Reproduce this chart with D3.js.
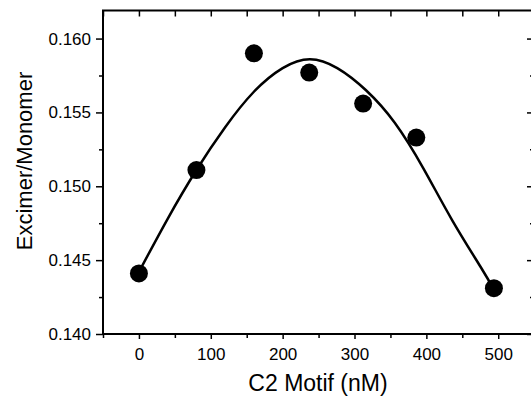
<!DOCTYPE html>
<html>
<head>
<meta charset="utf-8">
<script src="https://cdn.jsdelivr.net/npm/d3@7"></script>
<style>
  body { margin: 0; background: #fff; }
  svg { display: block; }
</style>
</head>
<body>
<div id="chart"></div>
<script>
// Measured points
var concentration = [0, 80, 160, 237, 312, 386, 494];
var ratio = [0.1441, 0.1511, 0.1590, 0.1577, 0.1556, 0.1533, 0.1431];

// Fitted curve
var fitX = [0, 40, 80, 120, 160, 200, 238, 276, 316, 356, 396, 436, 476, 494];
var fitY = [0.1442, 0.1478, 0.1511, 0.1540, 0.1564, 0.1580, 0.1586, 0.1580, 0.1565, 0.1543, 0.1512, 0.1477, 0.1445, 0.1430];

var xTicks = [0, 100, 200, 300, 400, 500];
var xMinor = [-50, 50, 150, 250, 350, 450];
var yTicks = [0.140, 0.145, 0.150, 0.155, 0.160];
var yMinor = [0.1425, 0.1475, 0.1525, 0.1575];

function drawChart() {
    var w = 531, h = 402;
    var left = 103, right = 532, top = 10.5, bottom = 334;

    var svg = d3.select("#chart")
                .append("svg")
                .attr("width", w)
                .attr("height", h)
                .style("font-family", "Liberation Sans, Arial, sans-serif");

    var x = d3.scaleLinear().domain([-50, 547]).range([left, right]);
    var y = d3.scaleLinear().domain([0.140, 0.1619]).range([bottom, top]);

    // frame
    svg.append("rect")
       .attr("x", left).attr("y", top)
       .attr("width", right - left).attr("height", bottom - top)
       .attr("fill", "none").attr("stroke", "#000").attr("stroke-width", 2);

    // bottom axis (outward ticks)
    svg.append("g").attr("transform", "translate(0," + bottom + ")")
       .call(d3.axisBottom(x).tickValues(xTicks).tickSize(5).tickPadding(9).tickFormat(d3.format("d")));
    svg.append("g").attr("transform", "translate(0," + bottom + ")")
       .call(d3.axisBottom(x).tickValues(xMinor).tickSize(4).tickFormat(""));

    // left axis (outward ticks)
    svg.append("g").attr("transform", "translate(" + left + ",0)")
       .call(d3.axisLeft(y).tickValues(yTicks).tickSize(7).tickPadding(5).tickFormat(d3.format(".3f")));
    svg.append("g").attr("transform", "translate(" + left + ",0)")
       .call(d3.axisLeft(y).tickValues(yMinor).tickSize(4).tickFormat(""));

    // top axis (inward ticks)
    svg.append("g").attr("transform", "translate(0," + top + ")")
       .call(d3.axisBottom(x).tickValues(xTicks.concat(xMinor)).tickSize(6).tickFormat(""));

    // right axis (inward ticks)
    svg.append("g").attr("transform", "translate(" + right + ",0)")
       .call(d3.axisLeft(y).tickValues(yTicks).tickSize(5).tickFormat(""));
    svg.append("g").attr("transform", "translate(" + right + ",0)")
       .call(d3.axisLeft(y).tickValues(yMinor).tickSize(2).tickFormat(""));

    svg.selectAll(".domain").remove();
    svg.selectAll(".tick line").attr("stroke", "#000").attr("stroke-width", 1.5);
    svg.selectAll(".tick text").attr("fill", "#000").style("font-size", "17px");

    // fitted curve
    var line = d3.line()
                 .x(function(d) { return x(d[0]); })
                 .y(function(d) { return y(d[1]); })
                 .curve(d3.curveNatural);
    svg.append("path")
       .datum(d3.zip(fitX, fitY))
       .attr("d", line)
       .attr("fill", "none")
       .attr("stroke", "#000")
       .attr("stroke-width", 2.5);

    // data points
    svg.selectAll("circle.pt")
       .data(d3.zip(concentration, ratio))
       .enter()
       .append("circle")
       .attr("class", "pt")
       .attr("cx", function(d) { return x(d[0]); })
       .attr("cy", function(d) { return y(d[1]); })
       .attr("r", 9)
       .attr("fill", "#000");

    // axis titles
    svg.append("text")
       .attr("x", 318).attr("y", 391)
       .attr("text-anchor", "middle")
       .style("font-size", "23px")
       .text("C2 Motif (nM)");

    svg.append("text")
       .attr("transform", "translate(32,161) rotate(-90)")
       .attr("text-anchor", "middle")
       .style("font-size", "22px")
       .text("Excimer/Monomer");
}

window.onload = drawChart;
</script>
</body>
</html>
